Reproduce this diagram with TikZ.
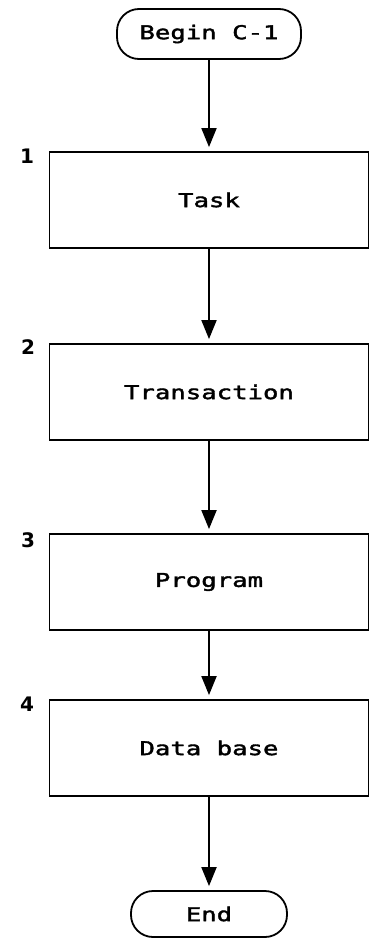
\documentclass[tikz,border=0pt]{standalone}
\usepackage{fontspec}
\usetikzlibrary{arrows.meta}
\newfontfamily\boxfont[FakeStretch=1.35,FakeBold=2]{DejaVu Sans Mono}
\newfontfamily\numfont{DejaVu Sans}
\begin{document}
\begin{tikzpicture}[x=1pt,y=-1pt,
  terminal/.style={draw,line width=1.8pt,rounded corners=22pt,inner sep=0pt,
    font=\boxfont\fontsize{19}{22}\selectfont},
  stepbox/.style={draw,line width=1.8pt,minimum width=319pt,minimum height=96pt,
    inner sep=0pt,font=\boxfont\fontsize{19}{22}\selectfont},
  numlabel/.style={anchor=west,inner sep=0pt,font=\numfont\bfseries\fontsize{20}{23}\selectfont},
  flow/.style={line width=1.9pt,-{Triangle[length=19pt,width=15pt]},shorten >=4pt}]
  \useasboundingbox (0,0) rectangle (369,939);

  % start and end terminals
  \node[terminal,minimum width=184pt,minimum height=50pt] (begin) at (209,34) {Begin C-1};
  \node[terminal,minimum width=156pt,minimum height=46pt] (end) at (209,914) {End};

  % process steps
  \node[stepbox] (task)  at (209,200) {Task};
  \node[stepbox] (trans) at (209,392) {Transaction};
  \node[stepbox] (prog)  at (209,582) {Program};
  \node[stepbox] (data)  at (209,748) {Data base};

  % step numbers
  \node[numlabel] (n1) at (20,156) {1};
  \node[numlabel] (n2) at (21,347) {2};
  \node[numlabel] (n3) at (21,540) {3};
  \node[numlabel] (n4) at (20,704) {4};

  % connectors
  \draw[flow] (begin) -- (task);
  \draw[flow] (task) -- (trans);
  \draw[flow] (trans) -- (prog);
  \draw[flow] (prog) -- (data);
  \draw[flow] (data) -- (end);
\end{tikzpicture}
\end{document}
